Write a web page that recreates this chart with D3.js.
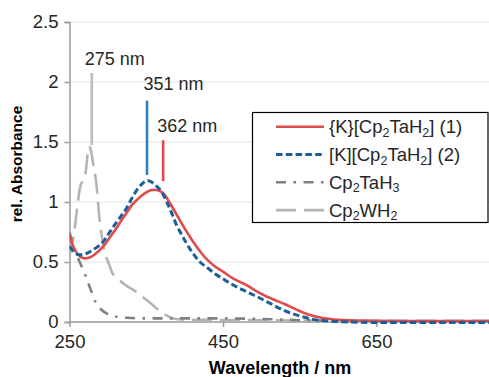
<!DOCTYPE html>
<html><head><meta charset="utf-8">
<script src="https://cdn.jsdelivr.net/npm/d3@7"></script>
<style>
html,body{margin:0;padding:0;background:#fff;}
svg{display:block;font-family:"Liberation Sans",Arial,sans-serif;}
</style></head>
<body><div id="chart"></div>
<script>
// ---- data ----
const wl1 = [250,255,260,265,270,275,280,287,294,302,310,318,324.5,332,340,350,357,363,368,374,380,390,400,410,420,430,440,450,460,470,480,490,500,515,530,545,560,572,590,615,650,700,850];
const abs1 = [0.72,0.63,0.57,0.54,0.53,0.535,0.55,0.585,0.63,0.70,0.77,0.85,0.91,0.98,1.03,1.08,1.10,1.10,1.09,1.06,1.00,0.89,0.78,0.68,0.59,0.515,0.46,0.42,0.375,0.34,0.31,0.27,0.235,0.19,0.15,0.105,0.065,0.044,0.025,0.014,0.01,0.008,0.008];

const wl2 = [250,255,260,266,275,285,294,302,310,318,324.5,332,340,346,351,356,362,370,376,383,390,396,403,410,420,430,440,450,460,475,490,510,530,550,572,595,615,650,700,850];
const abs2 = [0.63,0.59,0.565,0.56,0.58,0.62,0.67,0.745,0.82,0.89,0.95,1.04,1.12,1.16,1.18,1.17,1.14,1.085,1.01,0.91,0.80,0.73,0.65,0.58,0.50,0.45,0.40,0.36,0.32,0.27,0.225,0.16,0.095,0.05,0.017,0.005,0,-0.004,-0.005,-0.005];

const wl3 = [250,254,258,264,270,277,284,292,300,312,326,350,400,450,500,550,600,700,850];
const abs3 = [0.75,0.66,0.58,0.49,0.40,0.28,0.165,0.10,0.065,0.044,0.035,0.03,0.03,0.03,0.025,0.015,0.01,0.005,0.005];

const wl4 = [250,253,256,260,264,267,270,272,275,277,280,286,288,292,296,301,305,315,327,335,345,355,364,375,385,400,500,600,850];
const abs4 = [0.55,0.64,0.74,0.95,1.13,1.17,1.20,1.30,1.46,1.45,1.35,1.09,0.93,0.72,0.58,0.49,0.42,0.35,0.29,0.26,0.21,0.16,0.11,0.06,0.03,0.02,0.015,0.01,0.01];

// legend names as [text, isSubscript] pieces
const legendParts = [
  [["{K}[Cp",0],["2",1],["TaH",0],["2",1],["] (1)",0]],
  [["[K][Cp",0],["2",1],["TaH",0],["2",1],["] (2)",0]],
  [["Cp",0],["2",1],["TaH",0],["3",1]],
  [["Cp",0],["2",1],["WH",0],["2",1]]
];
const xTicks = [250,450,650];
const yTicks = [0,0.5,1,1.5,2,2.5];
const annWl = [279,351,372];
const annTop = [2.075,1.845,1.515];
const annBottom = [1.475,1.225,1.175];
const annLabels = ["275 nm","351 nm","362 nm"];

// ---- styles ----
const colors = ["#e04a4a","#1b5e98","#808080","#b4b4b4"];
const dashes = [null,"6.5,3.3","10,7.5,2.5,7.5","20,8"];
const widths = [2.6,3,2.6,2.6];
const annColors = ["#bdbdbd","#2f7fc0","#e04a4a"];

const W = 489, H = 377;
const svg = d3.select("#chart").append("svg").attr("width",W).attr("height",H);

const x0 = 69.5, pxPerNm = 0.7675;
const x = d3.scaleLinear().domain([250,850]).range([x0, x0 + 600*pxPerNm]);
const y = d3.scaleLinear().domain([0,2.5]).range([322,22]);

// gridlines
svg.append("g").selectAll("line").data(yTicks.filter(d=>d>0)).join("line")
  .attr("x1",x0).attr("x2",W).attr("y1",d=>y(d)).attr("y2",d=>y(d))
  .attr("stroke","#e3e3e3").attr("stroke-width",1);

// axes
const yAxis = d3.axisLeft(y).tickValues(yTicks).tickSize(5).tickPadding(6).tickFormat(d=>d3.format("")(d));
const gy = svg.append("g").attr("transform",`translate(${x0},0)`).call(yAxis);
const xAxis = d3.axisBottom(x).tickValues(xTicks).tickSize(5).tickPadding(8);
const gx = svg.append("g").attr("transform",`translate(0,${y(0)})`).call(xAxis);
[gx,gy].forEach(g=>{
  g.select(".domain").attr("stroke","#9a9a9a").attr("stroke-width",1.5);
  g.selectAll(".tick line").attr("stroke","#9a9a9a").attr("stroke-width",1.5);
  g.selectAll(".tick text").attr("fill","#262626").style("font-size","18.5px").style("font-family","Liberation Sans, Arial, sans-serif");
});
gx.select(".domain").attr("d",`M${x0},0H${W}`);

// clip
svg.append("clipPath").attr("id","clip").append("rect").attr("x",x0).attr("y",0).attr("width",W-x0).attr("height",340);

// curves
const line = d3.line().x(d=>x(d[0])).y(d=>y(d[1])).curve(d3.curveMonotoneX);
const series = [[wl1,abs1],[wl2,abs2],[wl3,abs3],[wl4,abs4]];
const drawOrder = [3,2,0,1];
drawOrder.forEach(i=>{
  const [w,a] = series[i];
  svg.append("path").attr("clip-path","url(#clip)")
    .datum(w.map((v,k)=>[v,a[k]]))
    .attr("d",line).attr("fill","none")
    .attr("stroke",colors[i]).attr("stroke-width",widths[i])
    .attr("stroke-dasharray",dashes[i]);
});

// annotations
const labelDx = [-7,-3.5,-6];
const labelY = [65,90,131.5];
annWl.forEach((w,i)=>{
  svg.append("line").attr("x1",x(w)).attr("x2",x(w))
    .attr("y1",y(annTop[i])).attr("y2",y(annBottom[i]))
    .attr("stroke",annColors[i]).attr("stroke-width",2.6);
  svg.append("text").attr("x",x(w)+labelDx[i]).attr("y",labelY[i])
    .attr("fill","#262626").style("font-size","18px").text(annLabels[i]);
});

// legend
const lg = svg.append("g");
lg.append("rect").attr("x",252.5).attr("y",112.5).attr("width",235.5).attr("height",110)
  .attr("fill","#fff").attr("stroke","#000").attr("stroke-width",1.2);
legendParts.forEach((parts,i)=>{
  const yy = 126.7 + i*27.8;
  lg.append("line").attr("x1",276).attr("x2",324).attr("y1",yy).attr("y2",yy)
    .attr("stroke",colors[i]).attr("stroke-width",widths[i]).attr("stroke-dasharray",dashes[i]);
  const t = lg.append("text").attr("x",329).attr("y",yy+6.5).attr("fill","#262626").style("font-size","18.5px");
  let prevSub = false;
  parts.forEach(([s,sub])=>{
    const ts = t.append("tspan").text(s);
    if(sub){ ts.style("font-size","12.5px").attr("dy", prevSub?0:3.5); }
    else { ts.attr("dy", prevSub?-3.5:0); }
    prevSub = !!sub;
  });
});

// axis titles
svg.append("text").attr("x",280).attr("y",374).attr("text-anchor","middle")
  .attr("fill","#000").style("font-size","18px").style("font-weight","bold").text("Wavelength / nm");
svg.append("text").attr("transform","translate(22,164) rotate(-90)").attr("text-anchor","middle")
  .attr("fill","#000").style("font-size","15.5px").style("font-weight","bold").text("rel. Absorbance");
</script></body></html>
